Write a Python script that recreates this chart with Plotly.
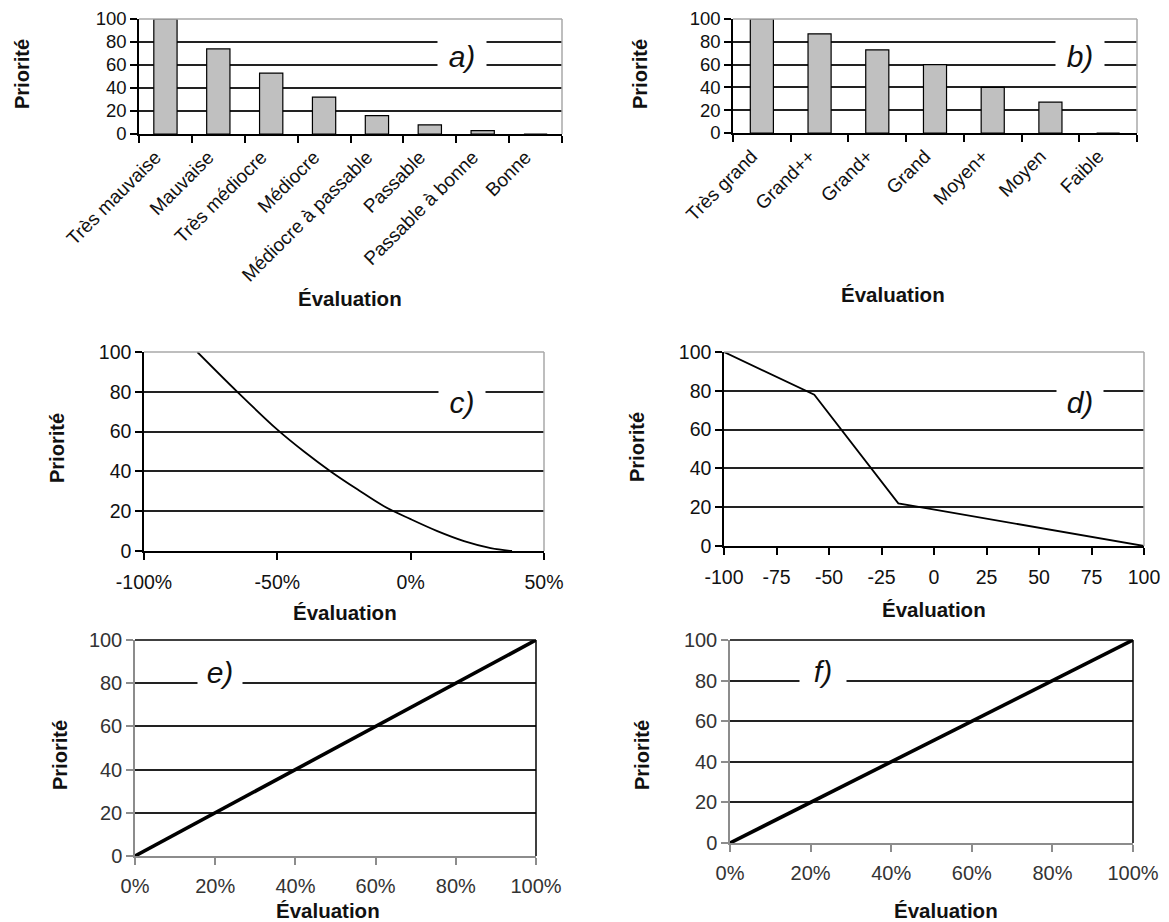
import plotly.graph_objects as go

W, H = 1169, 922

# ---------------- data ----------------
a_categories = ["Très mauvaise", "Mauvaise", "Très médiocre", "Médiocre",
                "Médiocre à passable", "Passable", "Passable à bonne", "Bonne"]
a_values = [100, 74, 53, 32, 16, 8, 3, 0]

b_categories = ["Très grand", "Grand++", "Grand+", "Grand", "Moyen+", "Moyen", "Faible"]
b_values = [100, 87, 73, 60, 40, 27, 0]

c_x = [-80, -65, -50, -40, -30, -20, -10, 0, 10, 20, 30, 38]
c_y = [100, 80, 61, 50, 40, 31, 22.5, 16, 10, 5, 1.5, 0]

d_x = [-100, -57, -17, 100]
d_y = [100, 78, 22, 0]

e_x = [0, 100]
e_y = [0, 100]

f_x = [0, 100]
f_y = [0, 100]

y_ticks = [0, 20, 40, 60, 80, 100]
c_ticks = [-100, -50, 0, 50]
c_ticktext = ["-100%", "-50%", "0%", "50%"]
d_ticks = [-100, -75, -50, -25, 0, 25, 50, 75, 100]
d_ticktext = ["-100", "-75", "-50", "-25", "0", "25", "50", "75", "100"]
ef_ticks = [0, 20, 40, 60, 80, 100]
ef_ticktext = ["0%", "20%", "40%", "60%", "80%", "100%"]

# ---------------- layout helpers ----------------
FONT = "Liberation Sans, Arial, sans-serif"


def dom_x(p0, p1):
    return [p0 / W, p1 / W]


def dom_y(top, bottom):
    return [1 - bottom / H, 1 - top / H]


panels = {
    # name: (x0, x1, ytop, ybottom)
    "a": (139, 562, 19, 134),
    "b": (733, 1137, 19, 133),
    "c": (144, 544, 352, 551),
    "d": (724, 1144, 352, 546),
    "e": (135, 536, 640, 856),
    "f": (730, 1133, 640, 843),
}

fig = go.Figure()

bar_marker = dict(color="#c0c0c0", line=dict(color="#000000", width=1.2))
fig.add_trace(go.Bar(x=a_categories, y=a_values, xaxis="x", yaxis="y",
                     marker=bar_marker, width=0.44, showlegend=False))
fig.add_trace(go.Bar(x=b_categories, y=b_values, xaxis="x2", yaxis="y2",
                     marker=bar_marker, width=0.40, showlegend=False))
fig.add_trace(go.Scatter(x=c_x, y=c_y, xaxis="x3", yaxis="y3", mode="lines",
                         line=dict(color="#000000", width=1.8, shape="spline"),
                         showlegend=False))
fig.add_trace(go.Scatter(x=d_x, y=d_y, xaxis="x4", yaxis="y4", mode="lines",
                         line=dict(color="#000000", width=1.8), showlegend=False))
fig.add_trace(go.Scatter(x=e_x, y=e_y, xaxis="x5", yaxis="y5", mode="lines",
                         line=dict(color="#000000", width=3.6), showlegend=False))
fig.add_trace(go.Scatter(x=f_x, y=f_y, xaxis="x6", yaxis="y6", mode="lines",
                         line=dict(color="#000000", width=3.6), showlegend=False))

layout = dict(
    template="none",
    width=W, height=H, autosize=False,
    margin=dict(l=0, r=0, t=0, b=0, pad=0),
    paper_bgcolor="white", plot_bgcolor="white",
    font=dict(family=FONT, color="#111111"),
    bargap=0.5,
    shapes=[], annotations=[],
)

names = ["a", "b", "c", "d", "e", "f"]
for i, name in enumerate(names):
    sfx = "" if i == 0 else str(i + 1)
    x0, x1, yt, yb = panels[name]
    ef = name in ("e", "f")
    axis_col = "#8c8c8c" if ef else "#000000"
    if ef:
        tick_font = dict(family=FONT, size=20, color="#333333")
    elif name in ("c", "d"):
        tick_font = dict(family=FONT, size=19.5, color="#111111")
    else:
        tick_font = dict(family=FONT, size=18.5, color="#111111")
    xa = dict(domain=dom_x(x0, x1), anchor="y" + sfx, showgrid=False, zeroline=False,
              automargin=False,
              showline=True, linecolor=axis_col, linewidth=1.5,
              ticks="outside", ticklen=7, tickwidth=1.5, tickcolor=axis_col,
              tickfont=tick_font, fixedrange=True)
    ya = dict(domain=dom_y(yt, yb), anchor="x" + sfx, range=[0, 100],
              automargin=False,
              tickmode="array", tickvals=y_ticks, showgrid=True,
              gridcolor="#222222", gridwidth=1.5, zeroline=False,
              showline=True, linecolor=axis_col, linewidth=1.5,
              ticks="outside", ticklen=7, tickwidth=1.5, tickcolor=axis_col,
              tickfont=tick_font, fixedrange=True)
    if name in ("a", "b"):
        xa.update(type="category", tickson="boundaries", tickangle=-45,
                  ticklabelshift=-10, ticklabelstandoff=3,
                  tickfont=dict(family=FONT, size=19, color="#111111"))
    elif name == "c":
        xa.update(range=[-100, 50], tickmode="array", tickvals=c_ticks,
                  ticktext=c_ticktext, ticklabelstandoff=6)
    elif name == "d":
        xa.update(range=[-100, 100], tickmode="array", tickvals=d_ticks,
                  ticktext=d_ticktext, ticklabelstandoff=6)
    else:
        xa.update(range=[0, 100], tickmode="array", tickvals=ef_ticks,
                  ticktext=ef_ticktext, ticklabelstandoff=4)
    layout["xaxis" + sfx] = xa
    layout["yaxis" + sfx] = ya

    # top and right frame
    frame_col = "#000000" if ef else "#a8a8a8"
    for (ax0, ay0, ax1, ay1) in [(0, 1, 1, 1), (1, 0, 1, 1)]:
        layout["shapes"].append(dict(type="line", xref="x" + sfx + " domain",
                                     yref="y" + sfx + " domain",
                                     x0=ax0, y0=ay0, x1=ax1, y1=ay1,
                                     line=dict(color=frame_col, width=1.5),
                                     layer="above"))

# panel letters with white boxes interrupting the gridlines
letters = {
    # name: (x frac, y frac, box width, box height)
    "a": (0.764, 0.678, 48, 36),
    "b": (0.859, 0.675, 48, 36),
    "c": (0.795, 0.749, 46, 40),
    "d": (0.848, 0.742, 46, 40),
    "e": (0.212, 0.852, 44, 40),
    "f": (0.231, 0.847, 46, 40),
}
for i, name in enumerate(names):
    sfx = "" if i == 0 else str(i + 1)
    lx, ly, bw, bh = letters[name]
    layout["annotations"].append(dict(
        text="<i>" + name + ")</i>", xref="x" + sfx + " domain", yref="y" + sfx + " domain",
        x=lx, y=ly, xanchor="center", yanchor="middle", showarrow=False,
        width=bw, height=bh, bgcolor="white", borderpad=0,
        font=dict(family=FONT, size=30, color="#111111")))

# axis titles
ylabels = {"a": (22, 74), "b": (640, 74), "c": (57, 448), "d": (637, 447),
           "e": (60, 755), "f": (642, 755)}
xlabels = {"a": (350, 298), "b": (893, 294), "c": (345, 612), "d": (934, 609),
           "e": (328, 910), "f": (946, 910)}
for name in names:
    px, py = ylabels[name]
    layout["annotations"].append(dict(
        text="<b>Priorité</b>", xref="paper", yref="paper", x=px / W, y=1 - py / H,
        xanchor="center", yanchor="middle", textangle=-90, showarrow=False,
        font=dict(family=FONT, size=20, color="#111111")))
    px, py = xlabels[name]
    layout["annotations"].append(dict(
        text="<b>Évaluation</b>", xref="paper", yref="paper", x=px / W, y=1 - py / H,
        xanchor="center", yanchor="middle", showarrow=False,
        font=dict(family=FONT, size=20.5, color="#111111")))

fig.update_layout(**layout)
fig.write_html("out.html", config={"displayModeBar": False},
               post_script="document.body.style.margin='0';document.body.style.padding='0';")
